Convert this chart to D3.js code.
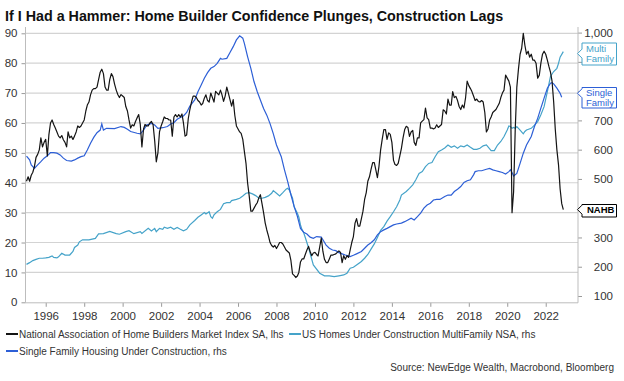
<!DOCTYPE html>
<html><head><meta charset="utf-8">
<script src="https://cdn.jsdelivr.net/npm/d3@7"></script>
<style>
body{margin:0;background:#fff;}
svg{display:block;font-family:"Liberation Sans",Arial,sans-serif;}
</style>
</head><body>
<svg id="chart" width="624" height="381"></svg>
<script>
// ---------------- DATA ----------------
const titleText = "If I Had a Hammer: Home Builder Confidence Plunges, Construction Lags";
const sourceText = "Source: NewEdge Wealth, Macrobond, Bloomberg";
const seriesNames = [
  "National Association of Home Builders Market Index SA, lhs",
  "US Homes Under Construction MultiFamily NSA, rhs",
  "Single Family Housing Under Construction, rhs"
];
const endLabels = [["NAHB"], ["Multi", "Family"], ["Single", "Family"]];
const leftTicks = [0, 10, 20, 30, 40, 50, 60, 70, 80, 90];
const rightTicks = [100, 200, 300, 400, 500, 600, 700, 800, 900, 1000];
const yearTicks = [1996, 1998, 2000, 2002, 2004, 2006, 2008, 2010, 2012, 2014, 2016, 2018, 2020, 2022];

// NAHB index, monthly from 1995-01 to 2022-12
const nahbStart = "1995-01";
const nahbValues = [
  40.5, 42, 40.5, 42.5, 43.5, 45.5, 48.5, 49.5, 51, 55, 52, 53.5,      // 1995
  54.5, 49, 56, 60, 61, 59.5, 58.3, 57, 55.6, 55, 55.8, 54.4,          // 1996
  53.5, 52, 57, 55, 55.6, 54.5, 55.6, 57, 59, 58.5, 59, 60,            // 1997
  61, 64, 66, 67, 69.4, 71, 71.5, 71.5, 72, 74.5, 77, 78,              // 1998
  76.5, 72, 71, 71, 74.5, 76.5, 75.5, 73, 71, 69.5, 68.5, 69.5,        // 1999
  69, 68.5, 65.5, 64, 61, 58.3, 59.4, 59, 60.5, 61.7, 62.8, 59.5,      // 2000
  52, 58, 59.5, 59, 59, 60, 60.5, 59.5, 54, 47, 50, 57,                // 2001
  59, 60.5, 62, 61.5, 61.5, 61, 61, 55.6, 62, 62.8, 62, 62.8,          // 2002
  62, 63, 60, 55.6, 56, 61.5, 64.5, 67, 69, 69, 68.5, 67.5,            // 2003
  67, 66, 66.5, 68.3, 69.4, 67.5, 67, 70, 68.5, 67, 70.6, 70,          // 2004
  69.4, 71, 69.5, 67.2, 69, 72, 70, 67.8, 65.6, 67.8, 62.5, 59,        // 2005
  58, 57, 56.5, 54.5, 50.5, 46.5, 40, 35.6, 30.5, 30.5, 31.5, 32.5,    // 2006
  33.3, 35, 36, 33, 30, 26.5, 24.2, 22.2, 20, 19, 18.5, 19,            // 2007
  18, 19, 20, 20, 19.5, 18.5, 17.5, 17, 16.5, 14, 9.5, 9,              // 2008
  8.3, 8.8, 10, 13.5, 14.5, 14.5, 16, 17.5, 18.7, 17, 15.6, 16.5,      // 2009
  16.7, 16, 15.5, 18.5, 21.5, 17, 14.4, 13.3, 13.3, 14.5, 15.8, 15.8,  // 2010
  16, 16.2, 16.7, 17.2, 16.7, 13.3, 15.6, 14.4, 15.6, 15, 17.5, 20,    // 2011
  22, 26.5, 28, 25.5, 25.5, 28, 30.5, 34.4, 36.7, 40.5, 42, 44.5,      // 2012
  46.7, 46.7, 44.4, 41.7, 45.5, 51, 54.5, 57.8, 57.8, 54.5, 56.7, 56.2,// 2013
  53.5, 47.5, 46.1, 45.8, 46.5, 49, 51.5, 55, 57.8, 58.9, 58.5, 55.5,  // 2014
  57, 57.5, 53.5, 52.5, 55, 55, 60, 60.6, 61.1, 65, 61.7, 61.1,        // 2015
  58.3, 58.3, 58, 58.3, 59.4, 58.5, 59, 59.5, 64.4, 64, 63, 68,        // 2016
  66, 66, 70.5, 68.5, 68.9, 67.5, 65.5, 64.5, 66, 65, 68.5, 74,        // 2017
  72.5, 71.5, 70.5, 69, 67.5, 68, 67.2, 67, 67.5, 67, 63.5, 57,        // 2018
  58, 61, 62, 63.5, 64, 64.5, 65.5, 66.5, 68.5, 70, 71, 76,            // 2019
  75, 74, 72, 30, 37, 58, 72, 78, 83, 85, 90, 86,                      // 2020
  83, 84, 82, 83, 81, 81, 80, 75, 76, 80, 83, 84,                      // 2021
  83, 81, 79, 77, 74, 67, 58, 51, 46, 38, 33, 31                       // 2022
];

// Multifamily under construction (thousands, rhs)
const mfDates = ["1995-01","1995-03","1995-05","1995-07","1995-09","1995-11","1996-01","1996-03","1996-05","1996-06","1996-08","1996-09","1996-11",
 "1997-01","1997-04","1997-06","1997-07","1997-09","1997-10","1997-12","1998-04","1998-08","1998-10","1999-01","1999-05","1999-09","1999-11",
 "2000-03","2000-05","2000-08","2000-12","2001-01","2001-05","2001-07","2001-09","2001-10","2001-12","2002-02","2002-03","2002-05","2002-07",
 "2002-09","2002-11","2003-01","2003-03","2003-05","2003-07","2003-10","2003-12","2004-02","2004-04","2004-05","2004-07","2004-08","2004-09",
 "2004-10","2004-12","2005-02","2005-04","2005-06","2005-08","2005-09","2005-12","2006-02","2006-04","2006-06","2006-08","2006-10","2006-12",
 "2007-02","2007-04","2007-06","2007-08","2007-10","2007-11","2008-01","2008-03","2008-05","2008-07","2008-08","2008-09","2008-11","2008-12",
 "2009-02","2009-03","2009-04","2009-05","2009-06","2009-07","2009-09","2009-12","2010-04","2010-07","2010-10","2011-01","2011-04","2011-07",
 "2011-09","2011-11","2012-01","2012-03","2012-06","2012-08","2012-10","2012-12","2013-02","2013-04","2013-06","2013-08","2013-10","2013-12",
 "2014-02","2014-04","2014-06","2014-07","2014-10","2014-12","2015-02","2015-04","2015-06","2015-08","2015-10","2015-12","2016-02","2016-04",
 "2016-06","2016-08","2016-10","2016-12","2017-02","2017-04","2017-06","2017-08","2017-10","2017-12","2018-02","2018-04","2018-06","2018-08",
 "2018-10","2018-12","2019-03","2019-05","2019-07","2019-09","2019-11","2020-01","2020-02","2020-03","2020-04","2020-05","2020-06","2020-07",
 "2020-09","2020-11","2020-12","2021-01","2021-04","2021-06","2021-08","2021-10","2021-12","2022-02","2022-04","2022-06","2022-08","2022-09",
 "2022-10","2022-12"];
const mfValues = [208,214,221,225,229,229,230,232,237,232,230,234,246,
 240,240,252,266,274,285,292,292,297,312,313,321,313,311,
 320,323,313,320,314,331,322,331,320,331,328,335,331,335,
 328,334,328,323,328,343,358,369,377,385,380,388,371,366,
 377,388,396,415,419,419,426,430,434,442,451,453,449,443,
 434,434,437,442,451,460,451,442,453,465,468,462,434,405,
 383,369,343,326,316,300,265,206,178,169,169,166,169,172,
 178,195,198,206,218,229,242,260,278,300,324,337,356,371,
 388,405,428,445,457,468,480,497,519,525,542,553,556,576,
 593,599,606,616,608,613,605,613,610,616,608,601,601,605,
 613,616,597,597,616,628,645,667,681,679,673,676,673,679,
 667,654,662,667,673,684,696,719,747,798,850,867,878,895,
 916,935];

// Single family under construction (thousands, rhs)
const sfDates = ["1995-01","1995-03","1995-04","1995-06","1995-08","1995-10","1995-12","1996-02","1996-04","1996-06","1996-08","1996-10","1996-12",
 "1997-02","1997-05","1997-07","1997-09","1997-11","1998-01","1998-03","1998-05","1998-07","1998-09","1998-11","1998-12","1999-01","1999-03",
 "1999-08","1999-12","2000-02","2000-04","2000-06","2000-10","2000-12","2001-02","2001-04","2001-07","2001-09","2001-11","2002-02","2002-05",
 "2002-07","2002-09","2002-11","2003-01","2003-03","2003-05","2003-07","2003-10","2003-12","2004-02","2004-04","2004-06","2004-08","2004-10",
 "2004-12","2005-02","2005-03","2005-06","2005-08","2005-10","2005-12","2006-02","2006-04","2006-05","2006-07","2006-09","2006-11","2007-01",
 "2007-03","2007-05","2007-07","2007-09","2007-11","2008-01","2008-04","2008-06","2008-08","2008-10","2008-12","2009-02","2009-04","2009-06",
 "2009-08","2009-10","2009-12","2010-02","2010-05","2010-06","2010-08","2010-10","2010-12","2011-02","2011-04","2011-06","2011-08","2011-10",
 "2011-11","2012-01","2012-03","2012-06","2012-08","2012-10","2012-12","2013-02","2013-04","2013-06","2013-08","2013-10","2013-12","2014-02",
 "2014-04","2014-07","2014-09","2014-11","2015-01","2015-03","2015-05","2015-07","2015-09","2015-11","2016-01","2016-03","2016-05","2016-07",
 "2016-10","2016-12","2017-02","2017-04","2017-06","2017-08","2017-10","2017-12","2018-02","2018-04","2018-05","2018-07","2018-09","2018-12",
 "2019-02","2019-04","2019-06","2019-08","2019-10","2019-12","2020-02","2020-03","2020-04","2020-05","2020-07","2020-09","2020-11","2021-01",
 "2021-04","2021-06","2021-08","2021-10","2021-12","2022-02","2022-04","2022-05","2022-06","2022-08","2022-10","2022-11"];
const sfValues = [578,565,548,536,548,559,571,579,590,590,588,582,571,
 563,561,565,571,576,579,599,622,642,658,667,688,667,673,
 672,679,676,670,662,656,654,667,684,690,684,673,675,679,
 688,692,704,710,715,727,749,770,798,821,844,863,878,884,
 895,912,909,912,932,952,975,989,981,963,918,878,832,798,
 770,741,718,689,655,616,576,531,491,446,406,372,331,318,
 312,301,297,303,301,292,274,263,257,255,248,244,240,237,
 235,239,244,252,263,274,282,292,309,320,326,331,337,343,
 346,349,354,360,366,360,371,383,400,411,417,428,430,430,
 440,445,445,457,465,474,488,494,497,514,525,528,528,533,
 536,531,528,525,522,517,525,531,522,510,519,553,588,616,
 645,679,707,742,776,810,827,829,825,810,793,779];

// ---------------- DRAW ----------------
const colors = {nahb: "#141414", mf: "#45a3c9", sf: "#2d5fd6", grid: "#d3d3d3", axis: "#bdbdbd", text: "#333333"};
const parseM = d3.timeParse("%Y-%m");
const svg = d3.select("#chart");
svg.append("rect").attr("width", 624).attr("height", 381).attr("fill", "#fff");

const x = d3.scaleTime().domain([new Date(1994, 11, 13), new Date(2023, 8, 6)]).range([25.5, 578]);
const yL = d3.scaleLinear().domain([0, 90]).range([302.3, 33.3]);
const yR = d3.scaleLinear().domain([100, 1000]).range([296, 32.6]);

// gridlines
svg.append("g").selectAll("line").data(leftTicks.filter(d => d > 0)).join("line")
  .attr("x1", 25.5).attr("x2", 578).attr("y1", d => yL(d)).attr("y2", d => yL(d))
  .attr("stroke", colors.grid).attr("stroke-width", 1.2);

// axes
const gL = svg.append("g").attr("transform", "translate(25.5,0)")
  .call(d3.axisLeft(yL).tickValues(leftTicks).tickSize(4).tickPadding(4).tickSizeOuter(0));
const gR = svg.append("g").attr("transform", "translate(578,0)")
  .call(d3.axisRight(yR).tickValues(rightTicks).tickSize(4).tickPadding(4).tickSizeOuter(0).tickFormat(d3.format(",")));
const gB = svg.append("g").attr("transform", "translate(0,302.8)")
  .call(d3.axisBottom(x).tickValues(yearTicks.map(y => new Date(y, 0, 1))).tickSize(4).tickPadding(5).tickSizeOuter(0).tickFormat(d3.timeFormat("%Y")));
[gL, gR, gB].forEach(g => {
  g.select(".domain").remove();
  g.selectAll(".tick line").attr("stroke", "#9a9a9a");
  g.selectAll("text").attr("fill", colors.text).attr("font-size", 11.5).attr("font-family", '"Liberation Sans",Arial,sans-serif');
});
gR.selectAll("text").attr("text-anchor", "end").attr("x", 35);
svg.append("line").attr("x1", 25.5).attr("x2", 25.5).attr("y1", 27).attr("y2", 302.8).attr("stroke", colors.axis);
svg.append("line").attr("x1", 578).attr("x2", 578).attr("y1", 27).attr("y2", 302.8).attr("stroke", colors.axis);
svg.append("line").attr("x1", 25.5).attr("x2", 578).attr("y1", 302.8).attr("y2", 302.8).attr("stroke", colors.axis);

// series
const nahbData = nahbValues.map((v, i) => ({d: d3.timeMonth.offset(parseM(nahbStart), i), v}));
const mfData = mfDates.map((s, i) => ({d: parseM(s), v: mfValues[i]}));
const sfData = sfDates.map((s, i) => ({d: parseM(s), v: sfValues[i]}));

const lineL = d3.line().x(p => x(p.d)).y(p => yL(p.v));
const lineR = d3.line().x(p => x(p.d)).y(p => yR(p.v));
svg.append("path").datum(mfData).attr("d", lineR).attr("fill", "none").attr("stroke", colors.mf).attr("stroke-width", 1.2);
svg.append("path").datum(sfData).attr("d", lineR).attr("fill", "none").attr("stroke", colors.sf).attr("stroke-width", 1.2);
svg.append("path").datum(nahbData).attr("d", lineL).attr("fill", "none").attr("stroke", colors.nahb).attr("stroke-width", 1.2).attr("stroke-linejoin", "round");

// end labels (callouts) — they sit over the right axis labels, as in the reference
const boxes = [];
function callout(tipY, top, h, color, lines, bold) {
  const left = 582, right = 616.5, tipX = 577.5;
  boxes.push([top, top + h]);
  const n1 = Math.max(top + 0.5, tipY - 4.5), n2 = Math.min(top + h - 0.5, tipY + 4.5);
  const path = `M${left},${top}H${right}V${top + h}H${left}V${n2}L${tipX},${tipY}L${left},${n1}Z`;
  svg.append("path").attr("d", path).attr("fill", "#fff").attr("stroke", color).attr("stroke-width", 1);
  const t = svg.append("text").attr("fill", bold ? "#000" : color).attr("font-size", 9.5)
    .attr("font-weight", bold ? "bold" : "normal");
  lines.forEach((s, i) => {
    t.append("tspan").attr("x", bold ? 587 : 586).attr("y", top + 8.5 + i * 10).text(s);
  });
}
const mfEnd = mfValues[mfValues.length - 1], sfEnd = sfValues[sfValues.length - 1], nEnd = nahbValues[nahbValues.length - 1];
callout(yR(mfEnd) + 2, 43, 22, colors.mf, endLabels[1], false);
callout(yR(sfEnd) - 4, 87.5, 20.5, colors.sf, endLabels[2], false);
callout(yL(nEnd), 204.5, 12.5, "#000", endLabels[0], true);
// hide the axis labels the callouts cover
gR.selectAll(".tick text").filter(d => boxes.some(b => yR(d) > b[0] - 4 && yR(d) < b[1] + 4)).remove();

// title
svg.append("text").attr("x", 5).attr("y", 20.5).attr("font-size", 14.3).attr("font-weight", "bold")
  .attr("fill", "#111").text(titleText);

// legend
const leg = [
  {x: 6, y: 334, c: colors.nahb, t: seriesNames[0]},
  {x: 289, y: 334, c: colors.mf, t: seriesNames[1]},
  {x: 6, y: 351, c: colors.sf, t: seriesNames[2]}
];
const lg = svg.append("g").selectAll("g").data(leg).join("g");
lg.append("line").attr("x1", d => d.x).attr("x2", d => d.x + 12).attr("y1", d => d.y).attr("y2", d => d.y)
  .attr("stroke", d => d.c).attr("stroke-width", 2);
lg.append("text").attr("x", d => d.x + 13).attr("y", d => d.y + 3.5).attr("font-size", 10)
  .attr("fill", colors.text).text(d => d.t);

// source
svg.append("text").attr("x", 614).attr("y", 370.5).attr("text-anchor", "end").attr("font-size", 10)
  .attr("fill", colors.text).text(sourceText);
</script>
</body></html>
